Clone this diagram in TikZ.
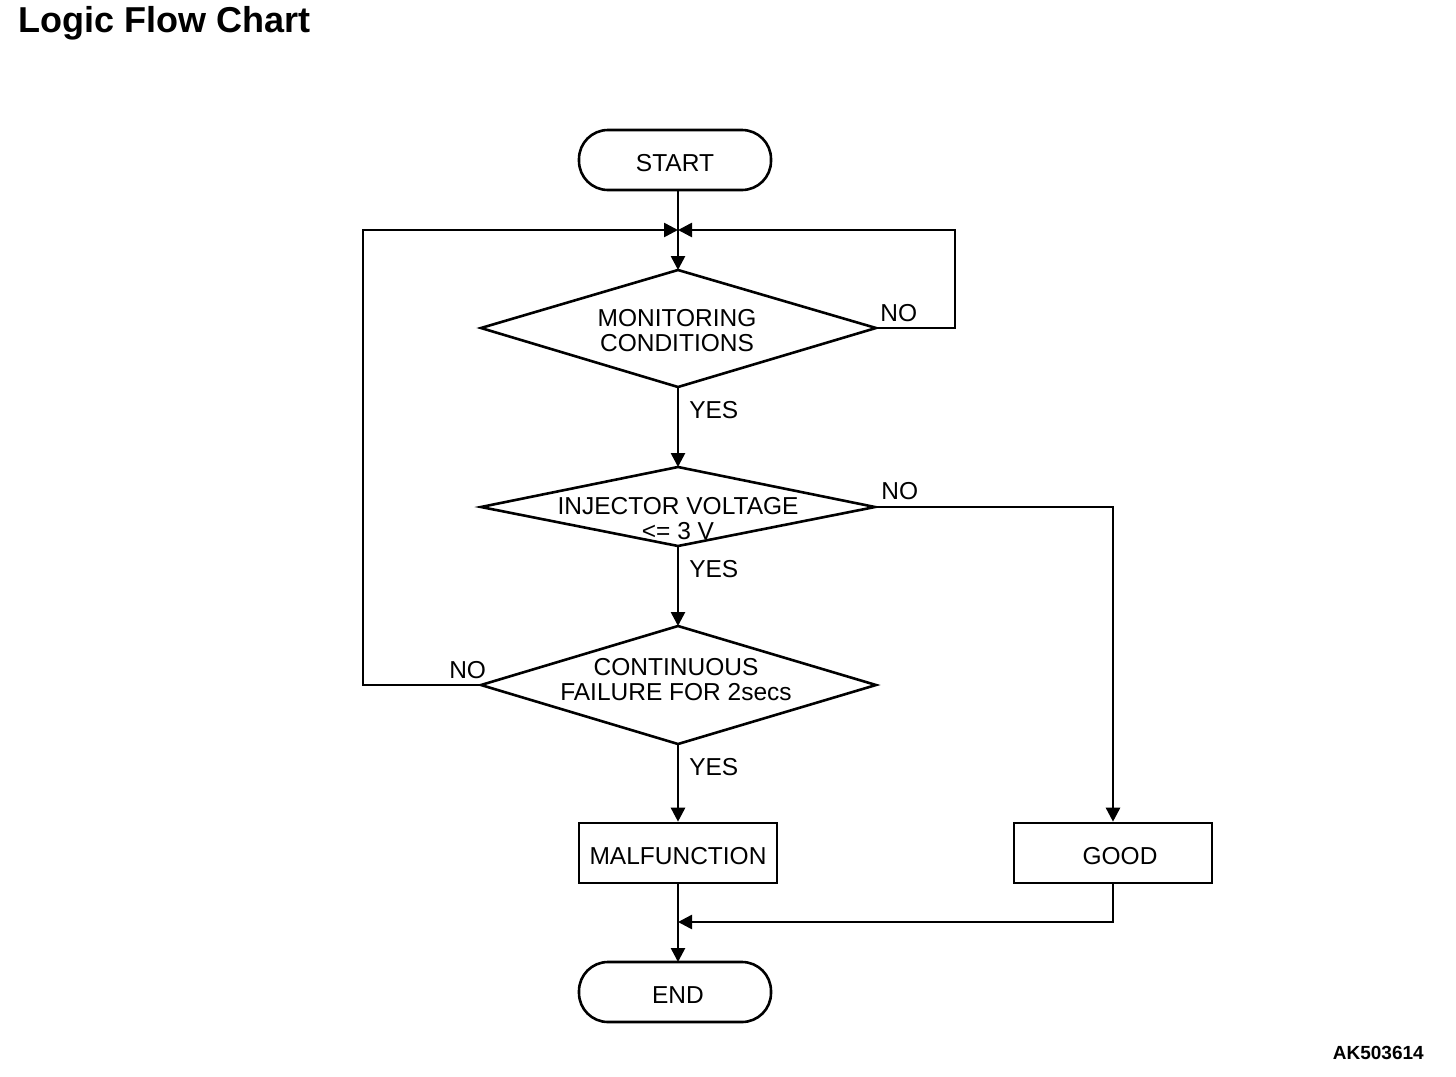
\documentclass[tikz,border=0pt]{standalone}
\usepackage{fontspec}
\setmainfont{Liberation Sans}
\usetikzlibrary{arrows.meta,shapes.geometric}
\begin{document}
\begin{tikzpicture}[x=1pt,y=-1pt,
  line width=2.6pt,
  lbl/.style={font=\fontsize{24.5}{25}\selectfont, inner sep=0pt},
  term/.style={draw, rounded corners=29pt, minimum width=192pt, minimum height=60pt, inner sep=0pt},
  procbox/.style={draw, minimum width=198pt, minimum height=60pt, inner sep=0pt},
  arr/.style={-{Triangle[length=14pt,width=14pt]}},
]
\useasboundingbox (0,0) rectangle (1456,1076);
\node[anchor=north west, inner sep=0pt, font=\bfseries\fontsize{36}{40}\selectfont] (title) at (17,5) {Logic Flow Chart};
\node[anchor=south east, inner sep=0pt, font=\bfseries\fontsize{19}{21}\selectfont] (code) at (1425,1061) {AK503614};

\node[term] (start) at (675,160) {};
\node[lbl] (starttxt) at (675,163) {START};
\coordinate (m1) at (678,230);

\draw (481,328) -- (678,270) -- (876,328) -- (678,387) -- cycle;
\coordinate (d1l) at (481,328); \coordinate (d1r) at (876,328);
\coordinate (d1t) at (678,270); \coordinate (d1b) at (678,387);
\node[lbl, align=center] (t1) at (677,331) {MONITORING\\CONDITIONS};

\draw (481,507) -- (678,467) -- (875,507) -- (678,546) -- cycle;
\coordinate (d2l) at (481,507); \coordinate (d2r) at (875,507);
\coordinate (d2t) at (678,467); \coordinate (d2b) at (678,546);
\node[lbl, align=center] (t2) at (678,519) {INJECTOR VOLTAGE\\{<}= 3 V};

\draw (481,685) -- (678,626) -- (876,685) -- (678,744) -- cycle;
\coordinate (d3l) at (481,685); \coordinate (d3r) at (876,685);
\coordinate (d3t) at (678,626); \coordinate (d3b) at (678,744);
\node[lbl, align=center] (t3) at (676,680) {CONTINUOUS\\FAILURE FOR 2secs};

\node[procbox] (mal) at (678,853) {};
\node[lbl] (maltxt) at (678,856) {MALFUNCTION};
\node[procbox] (good) at (1113,853) {};
\node[lbl] (goodtxt) at (1120,856) {GOOD};
\node[term] (end) at (675,992) {};
\node[lbl] (endtxt) at (678,995) {END};
\coordinate (m2) at (678,922);

% connectors
\draw (678,190) -- (m1);
\draw[arr] (m1) -- (d1t);
\draw[arr] (d1r) -- (955,328) -- (955,230) -- (m1);
\draw[arr] (d3l) -- (363,685) -- (363,230) -- (m1);
\draw[arr] (d1b) -- (d2t);
\draw[arr] (d2b) -- (d3t);
\draw[arr] (d3b) -- (mal.north);
\draw[arr] (d2r) -- (1113,507) -- (good.north);
\draw (mal.south) -- (m2);
\draw[arr] (m2) -- (678,962);
\draw[arr] (good.south) -- (1113,922) -- (m2);

% labels
\node[lbl, anchor=west] (y1) at (688,410) {YES};
\node[lbl, anchor=west] (y2) at (688,569) {YES};
\node[lbl, anchor=west] (y3) at (688,767) {YES};
\node[lbl, anchor=west] (n1) at (879,313) {NO};
\node[lbl, anchor=west] (n2) at (880,491) {NO};
\node[lbl, anchor=west] (n3) at (448,670) {NO};
\end{tikzpicture}
\end{document}
